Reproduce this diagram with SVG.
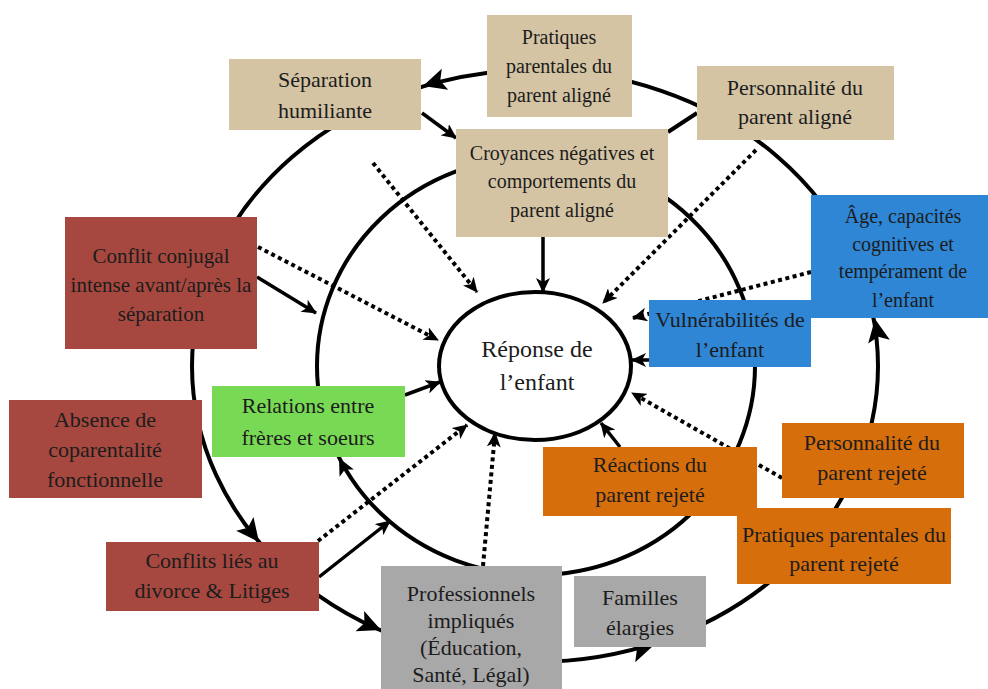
<svg xmlns="http://www.w3.org/2000/svg" width="988" height="689" viewBox="0 0 988 689">
<defs>
<style>
.ring{fill:none;stroke:#000;stroke-width:4}
.ln{fill:none;stroke:#000;stroke-width:3.5;marker-end:url(#ah)}
.dot{fill:none;stroke:#000;stroke-width:4;stroke-dasharray:4 3.5;marker-end:url(#ah)}
.s20{font-size:20px}
.s21{font-size:21px}
.s24{font-size:24px}
.tan{fill:#d4c4a4}
.red{fill:#a6483f}
.blue{fill:#2e86d4}
.green{fill:#78d955}
.orange{fill:#d76e0c}
.gray{fill:#a8a8a8}
</style>
<marker id="ah" markerUnits="userSpaceOnUse" markerWidth="16" markerHeight="14" refX="14" refY="7" orient="auto">
<path d="M0,0 L15,7 L0,14 L4,7 Z" fill="#000"/>
</marker>
<path id="bh" d="M0,0 L-23,-11 L-18,0 L-23,11 Z" fill="#000"/>
<path id="mh" d="M0,0 L-17,-8 L-13,0 L-17,8 Z" fill="#000"/>
</defs>
<rect width="988" height="689" fill="#fff"/>
<g id="connectors">
<ellipse class="ring" cx="535" cy="366" rx="343" ry="296"/>
<ellipse class="ring" cx="536" cy="366" rx="219" ry="209"/>
<use href="#bh" transform="translate(423,86) rotate(163)"/>
<use href="#bh" transform="translate(259,542) rotate(52)"/>
<use href="#bh" transform="translate(381,630) rotate(23)"/>
<use href="#bh" transform="translate(654,645) rotate(-17)"/>
<use href="#bh" transform="translate(875,319) rotate(-100)"/>
<use href="#mh" transform="translate(339,458) rotate(-117)"/>
<line class="ln" x1="422" y1="113" x2="456" y2="138"/>
<line class="ln" x1="257" y1="277" x2="316" y2="313"/>
<line class="ln" x1="319" y1="577" x2="390" y2="521"/>
<line class="ln" x1="543" y1="237" x2="543" y2="292"/>
<line class="ln" x1="405" y1="395" x2="440" y2="382"/>
<line class="ln" x1="650" y1="360" x2="632" y2="360"/>
<line class="ln" x1="620" y1="447" x2="601" y2="423"/>
<line x1="697" y1="113" x2="668" y2="132" stroke="#000" stroke-width="4"/>
<line class="dot" x1="373" y1="163" x2="477" y2="292"/>
<line class="dot" x1="756" y1="150" x2="603" y2="303"/>
<line class="dot" x1="811" y1="272" x2="633" y2="318"/>
<line class="dot" x1="258" y1="247" x2="438" y2="340"/>
<line class="dot" x1="318" y1="541" x2="467" y2="425"/>
<line class="dot" x1="483" y1="566" x2="495" y2="433"/>
<line class="dot" x1="782" y1="478" x2="632" y2="393"/>
</g>
<g font-family="Liberation Serif, Tinos, Times New Roman, Times, serif" font-size="22" fill="#1c1c1c" text-anchor="middle">
<g id="pratiques-aligne">
<rect class="tan" x="487" y="15" width="145" height="102"/>
<text class="s20" x="559" y="44">Pratiques</text>
<text class="s20" x="559" y="73">parentales du</text>
<text class="s20" x="559" y="102">parent aligné</text>
</g>
<g id="separation">
<rect class="tan" x="229" y="59" width="192" height="71"/>
<text x="325" y="87">Séparation</text>
<text x="325" y="118">humiliante</text>
</g>
<g id="personnalite-aligne">
<rect class="tan" x="697" y="66" width="197" height="74"/>
<text x="795" y="95">Personnalité du</text>
<text x="795" y="124">parent aligné</text>
</g>
<g id="croyances">
<rect class="tan" x="456" y="129" width="212" height="108"/>
<text class="s20" x="562" y="160">Croyances négatives et</text>
<text class="s20" x="562" y="188">comportements du</text>
<text class="s20" x="562" y="217">parent aligné</text>
</g>
<g id="age">
<rect class="blue" x="811" y="195" width="177" height="123"/>
<text class="s20" x="903" y="223">Âge, capacités</text>
<text class="s20" x="903" y="251">cognitives et</text>
<text class="s20" x="903" y="278">tempérament de</text>
<text class="s20" x="903" y="307">l’enfant</text>
</g>
<g id="vulnerabilites">
<rect class="blue" x="649" y="300" width="162" height="67"/>
<text x="730" y="327">Vulnérabilités de</text>
<text x="730" y="357">l’enfant</text>
</g>
<g id="conflit-conjugal">
<rect class="red" x="65" y="217" width="192" height="132"/>
<text class="s21" x="161" y="263">Conflit conjugal</text>
<text class="s21" x="161" y="292">intense avant/après la</text>
<text class="s21" x="161" y="321">séparation</text>
</g>
<g id="absence">
<rect class="red" x="9" y="400" width="193" height="98"/>
<text x="105" y="427">Absence de</text>
<text x="105" y="457">coparentalité</text>
<text x="105" y="487">fonctionnelle</text>
</g>
<g id="relations">
<rect class="green" x="212" y="386" width="193" height="71"/>
<text x="308" y="413">Relations entre</text>
<text x="308" y="445">frères et soeurs</text>
</g>
<g id="conflits-litiges">
<rect class="red" x="106" y="542" width="213" height="69"/>
<text x="212" y="568">Conflits liés au</text>
<text x="212" y="598">divorce &amp; Litiges</text>
</g>
<g id="professionnels">
<rect class="gray" x="381" y="566" width="181" height="130"/>
<text x="471" y="601">Professionnels</text>
<text x="471" y="628">impliqués</text>
<text x="471" y="655">(Éducation,</text>
<text x="471" y="682">Santé, Légal)</text>
</g>
<g id="familles">
<rect class="gray" x="574" y="576" width="132" height="71"/>
<text x="640" y="605">Familles</text>
<text x="640" y="635">élargies</text>
</g>
<g id="reactions">
<rect class="orange" x="543" y="447" width="214" height="69"/>
<text x="650" y="472">Réactions du</text>
<text x="650" y="502">parent rejeté</text>
</g>
<g id="personnalite-rejete">
<rect class="orange" x="782" y="423" width="182" height="75"/>
<text x="872" y="450">Personnalité du</text>
<text x="872" y="480">parent rejeté</text>
</g>
<g id="pratiques-rejete">
<rect class="orange" x="737" y="508" width="214" height="76"/>
<text x="844" y="542">Pratiques parentales du</text>
<text x="844" y="571">parent rejeté</text>
</g>
<g id="reponse">
<ellipse cx="535" cy="366" rx="96" ry="74" fill="#fff" stroke="#000" stroke-width="4"/>
<text class="s24" x="537" y="357">Réponse de</text>
<text class="s24" x="537" y="390">l’enfant</text>
</g>
</g>
</svg>
